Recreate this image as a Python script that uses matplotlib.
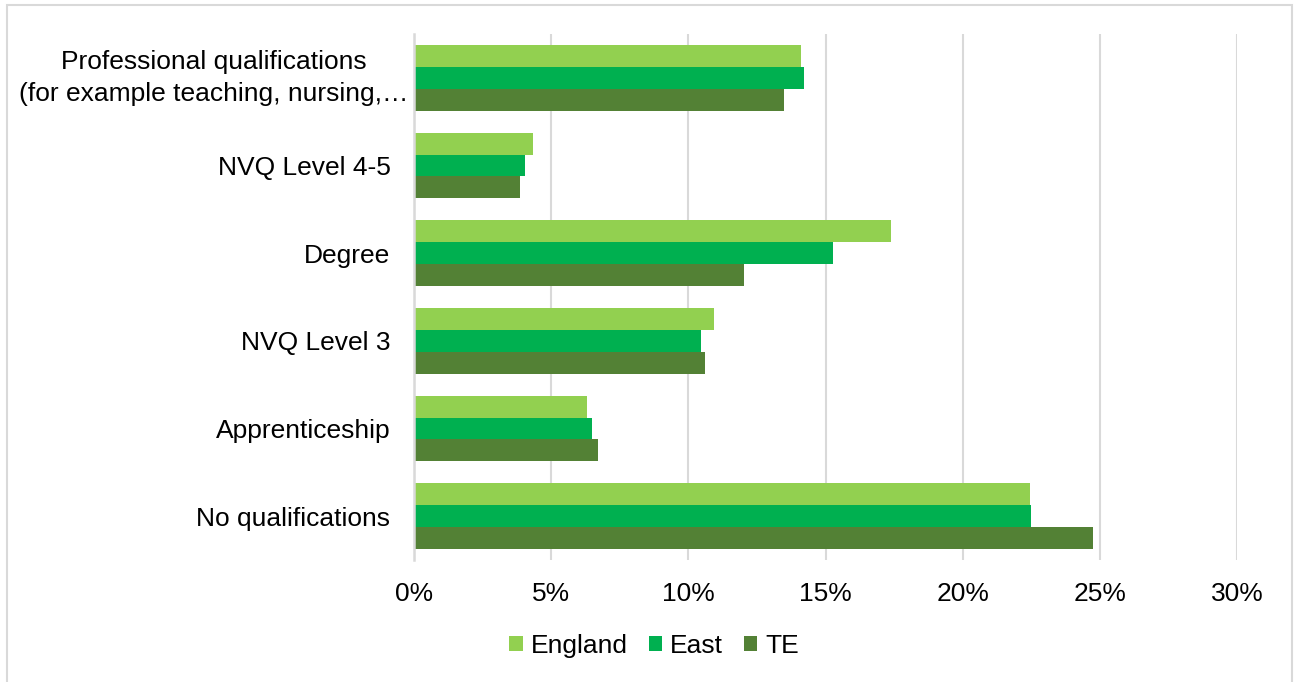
import matplotlib
matplotlib.use("Agg")
import matplotlib.pyplot as plt
import numpy as np
from matplotlib.patches import Patch, Rectangle
from matplotlib.ticker import PercentFormatter
from matplotlib.transforms import blended_transform_factory

plt.rcParams['font.family'] = ['Liberation Sans', 'DejaVu Sans']

# Qualification categories (bottom to top as drawn)
categories = [
    "No qualifications",
    "Apprenticeship",
    "NVQ Level 3",
    "Degree",
    "NVQ Level 4-5",
    "Professional qualifications\n(for example teaching, nursing,\u2026",
]

# Share of respondents (%) per area
england = [22.45, 6.32, 10.93, 17.38, 4.34, 14.12]
east = [22.50, 6.49, 10.47, 15.27, 4.06, 14.21]
te = [24.75, 6.69, 10.60, 12.02, 3.88, 13.47]

series_names = ["England", "East", "TE"]
colors = ["#92D050", "#00B050", "#538135"]

xticks = [0, 5, 10, 15, 20, 25, 30]

W, H, DPI = 1298, 682, 100
fig = plt.figure(figsize=(W / DPI, H / DPI), dpi=DPI)
ax = fig.add_axes([414 / W, 1 - 560 / H, (1237 - 414) / W, (560 - 34) / H])

y = np.arange(len(categories))
bh = 0.25
for vals, off, col in zip([england, east, te], [bh, 0, -bh], colors):
    ax.barh(y + off, vals, height=bh, color=col, edgecolor="none", zorder=3)

ax.set_ylim(-0.5, len(categories) - 0.5)
ax.set_xlim(0, 30)
ax.set_xticks(xticks)
ax.xaxis.set_major_formatter(PercentFormatter(decimals=0))
ax.set_yticks(y)
ax.set_yticklabels(categories)

# The long two-line label is centred under its own block, left of the axis
last = ax.get_yticklabels()[-1]
last.set_visible(False)
trans = blended_transform_factory(fig.transFigure, ax.transData)
ax.text(214 / W, y[-1], categories[-1], transform=trans, ha="center",
        va="center", multialignment="center", fontsize=19, linespacing=1.4)

ax.grid(axis="x", color="#D9D9D9", linewidth=1.5, zorder=0)
ax.set_axisbelow(True)
for s in ["top", "right", "bottom"]:
    ax.spines[s].set_visible(False)
ax.spines["left"].set_color("#D9D9D9")
ax.spines["left"].set_linewidth(1.8)
ax.spines["left"].set_zorder(4)

ax.tick_params(axis="both", length=0, labelsize=19, colors="#000000")
ax.tick_params(axis="x", pad=16)
ax.tick_params(axis="y", pad=17)

handles = [Patch(facecolor=c, edgecolor="none") for c in colors]
fig.legend(handles, series_names, loc="center",
           bbox_to_anchor=(0.5 + 5 / W, 1 - 646 / H),
           ncol=3, frameon=False, fontsize=19, handlelength=0.5, handleheight=0.5,
           handletextpad=0.3, columnspacing=0.8)

# Light frame around the chart area
fig.patches.append(Rectangle((7 / W, -0.05), (1292 - 7) / W, (1 - 5 / H) + 0.05,
                             transform=fig.transFigure, fill=False,
                             edgecolor="#D9D9D9", linewidth=1.5))

fig.savefig("out.png", dpi=DPI)
